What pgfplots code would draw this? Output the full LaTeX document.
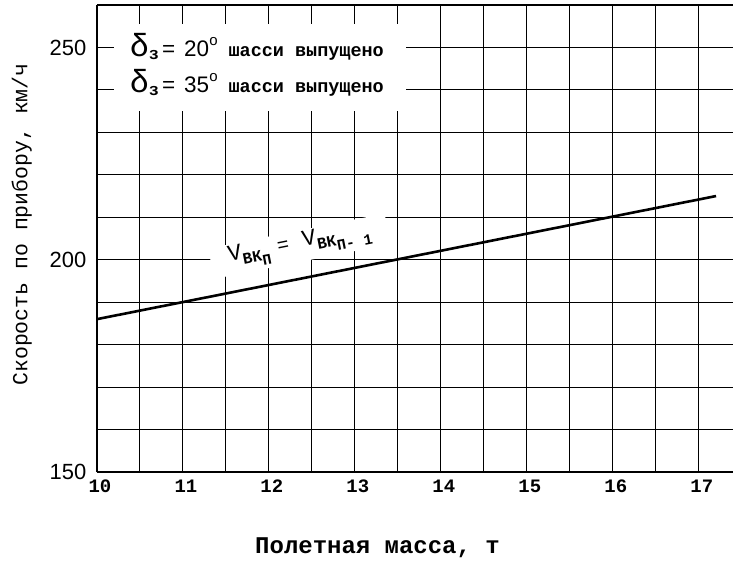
\documentclass[border=0pt]{standalone}
\usepackage{fontspec}
\setmainfont{Liberation Mono}
\newfontfamily\sansf{Liberation Sans}
\usepackage{pgfplots}
\pgfplotsset{compat=1.18}
\newcommand{\xl}[1]{{\fontsize{19}{21}\selectfont\bfseries #1}}
\newcommand{\yl}[1]{{\sansf\fontsize{22}{23}\selectfont #1}}
\newcommand{\leg}[1]{{\fontsize{32}{32}\selectfont δ}\raisebox{-0.35em}{\fontsize{17}{17}\selectfont\bfseries з}\hspace{3pt}{\sansf\fontsize{22.5}{22}\selectfont =\hspace{9pt}#1\raisebox{0.5em}{\fontsize{15}{15}\selectfont o}}\hspace{11pt}{\fontsize{18.5}{20}\selectfont\bfseries шасси выпущено}}
\begin{document}
\begin{tikzpicture}
\begin{axis}[
  scale only axis,
  width=637pt, height=467.5pt,
  xmin=10, xmax=17.4, ymin=150, ymax=260,
  axis x line*=bottom, axis y line*=left,
  axis line style={line width=1.5pt, -},
  xtick={10,...,17}, minor xtick={10.5,11.5,...,16.5},
  xticklabels={\xl{10},\xl{11},\xl{12},\xl{13},\xl{14},\xl{15},\xl{16},\xl{17}},
  ytick={150,200,250}, minor ytick={160,170,180,190,210,220,230,240,260},
  yticklabels={\yl{150},\yl{200},\yl{250}},
  major tick length=0pt, minor tick length=0pt,
  grid=both,
  grid style={line width=1.2pt, black},
  minor grid style={line width=1.2pt, black},
  major grid style={line width=1.2pt, black},
  xticklabel style={yshift=-4pt, xshift=3pt},
  yticklabel style={xshift=-7pt},
  xlabel={Полетная масса, т},
  xlabel style={font=\fontsize{24}{28}\selectfont\bfseries, at={(axis description cs:0.441,-0.163)}, anchor=center},
  ylabel={Скорость по прибору, км/ч},
  ylabel style={font=\fontsize{21.5}{23}\selectfont, at={(axis description cs:-0.118,0.53)}, anchor=center},
  clip=false,
]
\fill[white] (axis cs:10.2,235) rectangle (axis cs:13.6,255.5);
\node[anchor=base west, inner sep=0pt] at (axis cs:10.38,247.9) {\leg{20}};
\node[anchor=base west, inner sep=0pt] at (axis cs:10.38,239.4) {\leg{35}};
\addplot[line width=2.6pt, black] coordinates {(10,186) (17.2,215)};
\fill[white, rotate around={11.2:(axis cs:12.36,202.6)}] ([xshift=-90pt,yshift=-13pt]axis cs:12.36,202.6) rectangle ([xshift=90pt,yshift=18pt]axis cs:12.36,202.6);
\node[rotate=11.2, inner sep=0pt] at (axis cs:12.36,203.4) {{\fontsize{23}{23}\selectfont V}\raisebox{-0.55em}{\fontsize{16}{16}\selectfont\bfseries ВК\raisebox{-0.3em}{\fontsize{15}{15}\selectfont П}}\hspace{8pt}{\fontsize{20}{20}\selectfont =}\hspace{14pt}{\fontsize{23}{23}\selectfont V}\raisebox{-0.55em}{\fontsize{16}{16}\selectfont\bfseries ВК\raisebox{-0.3em}{\fontsize{15}{15}\selectfont П- 1}}};
\end{axis}
\path (current axis.south west) ++(-97pt,-91pt) rectangle ([yshift=5pt]current axis.north east);
\end{tikzpicture}
\end{document}
